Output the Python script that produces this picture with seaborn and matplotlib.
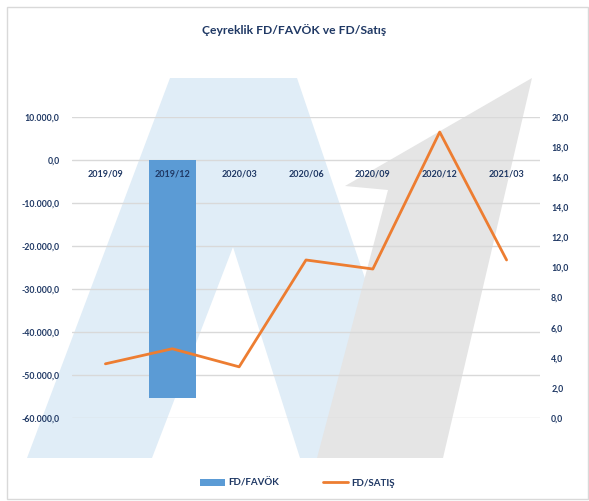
import matplotlib
matplotlib.use("Agg")
import matplotlib.pyplot as plt
from matplotlib.patches import Polygon, Rectangle, Patch
from matplotlib.lines import Line2D
from matplotlib.ticker import FuncFormatter, FixedLocator
import seaborn as sns
import pandas as pd

categories = ["2019/09", "2019/12", "2020/03", "2020/06", "2020/09", "2020/12", "2021/03"]
fd_favok = [0.0, -55300.0, 0.0, 0.0, 0.0, 0.0, 0.0]
fd_satis = [3.6, 4.6, 3.4, 10.5, 9.9, 19.0, 10.5]
left_ticks = [10000, 0, -10000, -20000, -30000, -40000, -50000, -60000]
right_ticks = [0, 2, 4, 6, 8, 10, 12, 14, 16, 18, 20]
title = "Çeyreklik FD/FAVÖK ve FD/Satış"

df = pd.DataFrame({"Dönem": categories, "FD/FAVÖK": fd_favok, "FD/SATIŞ": fd_satis})

sns.set_theme(style="white")
plt.rcParams["font.family"] = ["Lato", "DejaVu Sans"]

W, H = 589, 501
fig = plt.figure(figsize=(W / 100, H / 100), dpi=100)
fig.patch.set_facecolor("white")

# background layer (decorative watermark + frame), in pixel coordinates
bg = fig.add_axes([0, 0, 1, 1], zorder=-10)
bg.set_xlim(0, W)
bg.set_ylim(H, 0)
bg.axis("off")
bg.add_patch(Polygon([(27, 458), (170, 78), (297, 78), (426, 458), (300, 458),
                      (233, 247), (152, 458)], closed=True, facecolor="#E0EDF7",
                     edgecolor="none"))
bg.add_patch(Polygon([(317, 458), (388, 190), (345, 186), (532, 78), (443, 458)],
                     closed=True, facecolor="#E5E5E5", edgecolor="none"))
bg.add_patch(Rectangle((7, 7), 588 - 7, 499 - 7, facecolor="none", edgecolor="#D9D9D9",
                       linewidth=1.0))

ax = fig.add_axes([72 / W, 1 - 418 / H, (540 - 72) / W, (418 - 117) / H])
ax.set_facecolor("none")
navy = "#1F3864"
blue = "#5B9BD5"
orange = "#ED7D31"

sns.barplot(data=df, x="Dönem", y="FD/FAVÖK", color=blue, width=0.7, saturation=1,
            linewidth=0, edgecolor="none", ax=ax, zorder=2)
ax.set_ylim(-60000, 10000)
ax.set_xlim(-0.5, len(categories) - 0.5)
ax.yaxis.set_major_locator(FixedLocator(left_ticks))

def tr_fmt(v, pos):
    s = f"{abs(v):,.1f}".replace(",", "X").replace(".", ",").replace("X", ".")
    return ("-" if v < 0 else "") + s

ax.yaxis.set_major_formatter(FuncFormatter(tr_fmt))
ax.grid(axis="y", color="#D9D9D9", linewidth=1.0)
ax.grid(axis="x", visible=False)
ax.set_axisbelow(True)
ax.xaxis.set_zorder(3)
for s in ax.spines.values():
    s.set_visible(False)
ax.spines["bottom"].set_position(("data", 0))
ax.tick_params(axis="x", length=0, pad=7, labelsize=6.5, labelcolor=navy)
ax.tick_params(axis="y", length=0, pad=9, labelsize=6.3, labelcolor=navy)
for lab in ax.get_xticklabels() + ax.get_yticklabels():
    lab.set_fontweight("bold")
ax.set_xlabel("")
ax.set_ylabel("")

ax2 = ax.twinx()
sns.lineplot(data=df, x="Dönem", y="FD/SATIŞ", color=orange, linewidth=2.0, sort=False,
             ax=ax2)
ax2.set_ylim(0, 20)
ax2.yaxis.set_major_locator(FixedLocator(right_ticks))
ax2.yaxis.set_major_formatter(FuncFormatter(lambda v, p: f"{v:.1f}".replace(".", ",")))
for s in ax2.spines.values():
    s.set_visible(False)
ax2.tick_params(axis="y", length=0, pad=8, labelsize=6.3, labelcolor=navy)
for lab in ax2.get_yticklabels():
    lab.set_fontweight("bold")
ax2.set_ylabel("")
ax2.grid(False)

fig.text(0.5, 1 - 30 / H, title, ha="center", va="center", fontsize=8.7, fontweight="bold",
         color=navy)

handles = [Patch(facecolor=blue, edgecolor="none"),
           Line2D([0], [0], color=orange, linewidth=2.0)]
fig.legend(handles, ["FD/FAVÖK", "FD/SATIŞ"], loc="center", bbox_to_anchor=(0.505, 1 - 483 / H),
           ncol=2, frameon=False, columnspacing=4.5, handlelength=2.6,
           handleheight=0.7, handletextpad=0.3, labelcolor=navy,
           prop={"weight": "bold", "size": 7})

fig.savefig("out.png", dpi=100, facecolor="white")
